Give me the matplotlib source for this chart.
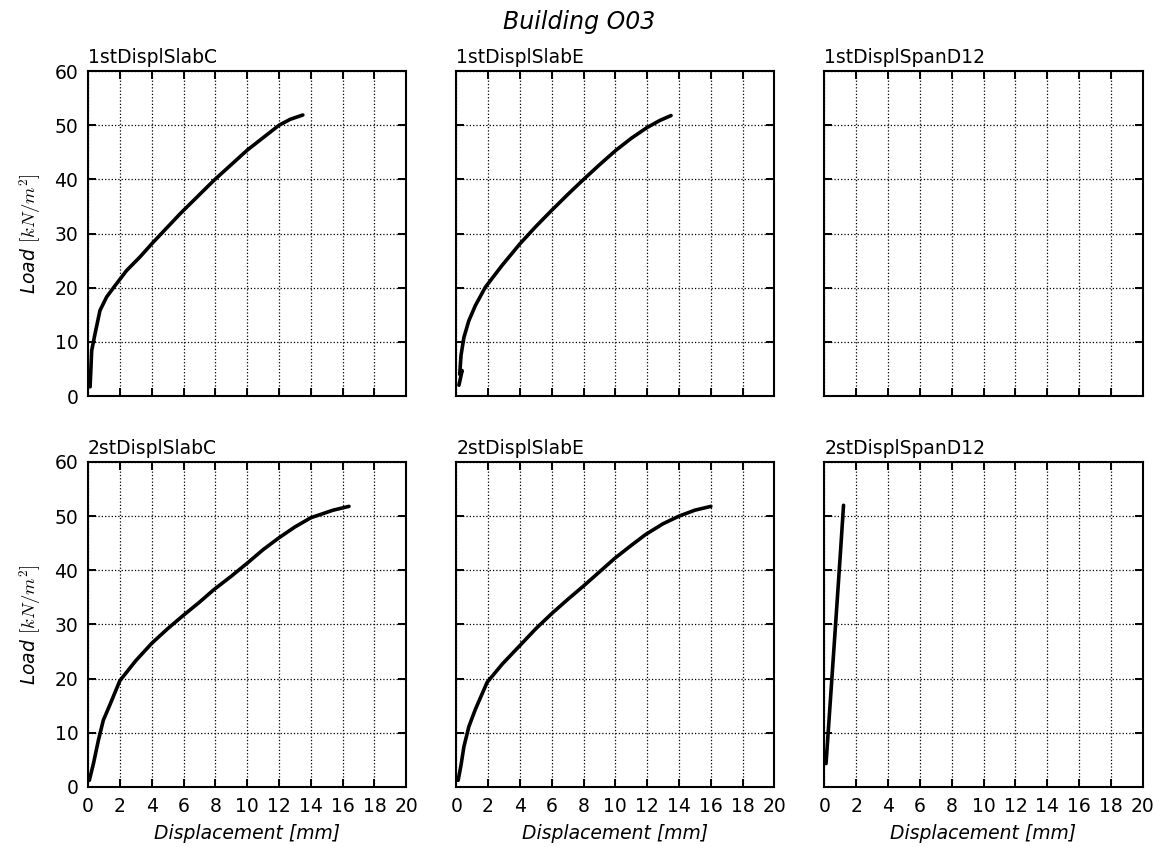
import matplotlib
matplotlib.use('Agg')
import matplotlib.pyplot as plt
import numpy as np

plt.rcParams['mathtext.fontset'] = 'cm'
plt.rcParams['font.family'] = 'DejaVu Sans'

# load-displacement readings per gauge, displacement in mm, load in kN/m2
slab_c1_x = [0.13, 0.23, 0.44, 0.75, 1.17, 1.7, 2.43, 3.27, 4.0, 5.8, 7.9, 10.0, 12.0, 12.7, 13.5]
slab_c1_y = [1.7, 8.4, 11.5, 15.8, 18.3, 20.4, 23.2, 25.7, 28.1, 33.7, 39.8, 45.4, 50.0, 51.1, 51.9]

slab_e1_x = [0.17, 0.37, 0.22, 0.3, 0.48, 0.79, 1.2, 1.83, 2.9, 4.0, 5.0, 6.0, 7.0, 8.0, 9.0, 10.0, 11.0, 12.0, 12.8, 13.5]
slab_e1_y = [2.0, 4.7, 4.0, 7.5, 10.8, 13.9, 16.7, 20.1, 24.2, 28.1, 31.3, 34.3, 37.2, 40.0, 42.7, 45.3, 47.6, 49.6, 50.9, 51.8]

span_d12_1_x = []
span_d12_1_y = []

slab_c2_x = [0.08, 0.34, 0.65, 0.96, 1.38, 2.0, 3.0, 4.0, 5.0, 6.0, 7.0, 7.9, 9.0, 10.0, 11.0, 12.0, 13.0, 14.0, 15.4, 16.4]
slab_c2_y = [1.2, 4.3, 8.6, 12.3, 15.2, 19.6, 23.3, 26.5, 29.2, 31.7, 34.1, 36.4, 38.9, 41.3, 43.8, 46.0, 48.0, 49.7, 51.1, 51.8]

slab_e2_x = [0.12, 0.3, 0.48, 0.79, 1.2, 1.94, 2.9, 4.0, 5.0, 6.0, 7.0, 8.0, 9.0, 9.96, 11.0, 11.9, 13.0, 14.0, 15.0, 16.0]
slab_e2_y = [1.2, 4.0, 7.4, 11.1, 14.3, 19.3, 22.7, 26.1, 29.2, 32.0, 34.6, 37.1, 39.7, 42.2, 44.6, 46.6, 48.6, 50.0, 51.1, 51.8]

span_d12_2_x = [0.1, 0.35, 0.7, 1.0, 1.2]
span_d12_2_y = [4.3, 15.0, 30.0, 43.0, 52.0]

titles = ['1stDisplSlabC', '1stDisplSlabE', '1stDisplSpanD12',
          '2stDisplSlabC', '2stDisplSlabE', '2stDisplSpanD12']
series = [(slab_c1_x, slab_c1_y), (slab_e1_x, slab_e1_y), (span_d12_1_x, span_d12_1_y),
          (slab_c2_x, slab_c2_y), (slab_e2_x, slab_e2_y), (span_d12_2_x, span_d12_2_y)]

fig, axes = plt.subplots(2, 3, figsize=(11.66, 8.47), dpi=100, sharex=True, sharey=True)
fig.subplots_adjust(left=0.0755, right=0.98, top=0.916, bottom=0.071, wspace=0.157, hspace=0.203)

for ax, title, (x, y) in zip(axes.flat, titles, series):
    if len(x):
        ax.plot(x, y, color='k', lw=2.6, solid_capstyle='round', solid_joinstyle='round')
    ax.set_title(title, loc='left', fontsize=13.5, pad=6)
    ax.set_xlim(0, 20)
    ax.set_ylim(0, 60)
    ax.set_xticks(np.arange(0, 21, 2))
    ax.set_yticks(np.arange(0, 61, 10))
    ax.grid(True, color='k', linestyle=':', linewidth=0.9)
    ax.tick_params(direction='in', top=True, right=True, length=6, width=1.4,
                   labelsize=13.5, pad=7)
    for sp in ax.spines.values():
        sp.set_linewidth(1.5)

for ax in axes[1]:
    ax.set_xlabel('Displacement [mm]', fontsize=13.5, style='italic', labelpad=6)
for ax in axes[:, 0]:
    ax.set_ylabel(r'Load $[kN/m^2]$', fontsize=13.5, style='italic', labelpad=8)

fig.suptitle('Building O03', fontsize=17, style='italic', x=0.497, y=0.988)

fig.savefig('out.png', dpi=100, facecolor='white')
